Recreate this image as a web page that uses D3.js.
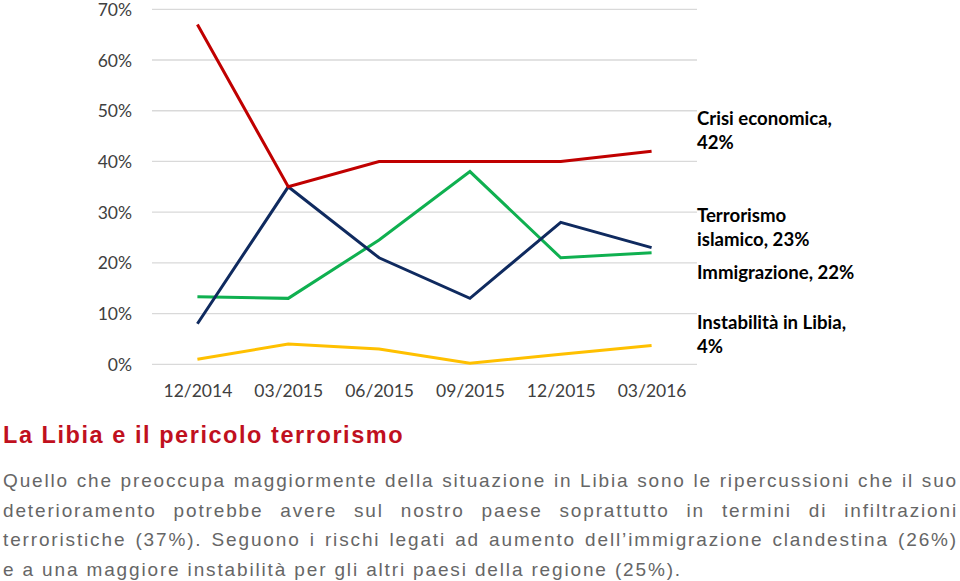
<!DOCTYPE html>
<html><head><meta charset="utf-8">
<script src="https://cdn.jsdelivr.net/npm/d3@7"></script>
<style>
html,body{margin:0;padding:0;background:#fff;}
svg{display:block;}
</style>
</head><body>
<svg id="c" width="960" height="581"></svg>
<script>
const categories = ["12/2014","03/2015","06/2015","09/2015","12/2015","03/2016"];
const crisiEconomica = [67, 35, 40, 40, 40, 42];
const terrorismoIslamico = [8, 35, 21, 13, 28, 23];
const immigrazione = [13.3, 13, 24.5, 38, 21, 22];
const instabilitaLibia = [1, 4, 3, 0.2, 2, 3.7];
const yTicks = [0, 10, 20, 30, 40, 50, 60, 70];
const seriesNames = ["Crisi economica", "Terrorismo islamico", "Immigrazione", "Instabilità in Libia"];
const seriesColors = ["#c00000", "#0f2a5f", "#0fb050", "#ffc000"];
const endLabels = [["Crisi economica,", "42%"], ["Terrorismo", "islamico, 23%"], ["Immigrazione, 22%"], ["Instabilità in Libia,", "4%"]];
const endLabelY = [125, 222, 279, 329];
const title = "La Libia e il pericolo terrorismo";
const paragraphLines = [
 "Quello che preoccupa maggiormente della situazione in Libia sono le ripercussioni che il suo",
 "deterioramento potrebbe avere sul nostro paese soprattutto in termini di infiltrazioni",
 "terroristiche (37%). Seguono i rischi legati ad aumento dell\u2019immigrazione clandestina (26%)",
 "e a una maggiore instabilità per gli altri paesi della regione (25%)."
];

const svg = d3.select("#c");
const x = d3.scalePoint().domain(categories).range([152, 697]).padding(0.5);
const y = d3.scaleLinear().domain([0, 70]).range([364.3, 9.3]);

// grid
svg.append("g").selectAll("line").data(yTicks).join("line")
  .attr("x1", 152).attr("x2", 697)
  .attr("y1", d => y(d)).attr("y2", d => y(d))
  .attr("stroke", "#d9d9d9").attr("stroke-width", 1.3);

// y axis
const yAxis = d3.axisLeft(y).tickValues(yTicks).tickFormat(d => d + "%").tickSize(0).tickPadding(0);
const yg = svg.append("g").attr("transform", "translate(132,0)").call(yAxis);
yg.select(".domain").remove();
yg.selectAll("text").attr("font-family", "Lato, 'Open Sans', sans-serif").attr("font-size", 17.5).attr("fill", "#404040").attr("dy", "0.35em");

// x axis
const xAxis = d3.axisBottom(x).tickSize(0).tickPadding(0);
const xg = svg.append("g").attr("transform", "translate(0,383)").call(xAxis);
xg.select(".domain").remove();
xg.selectAll("text").attr("font-family", "Lato, 'Open Sans', sans-serif").attr("font-size", 17.5).attr("fill", "#404040").attr("dy", "0.8em");

// lines
const allSeries = [crisiEconomica, terrorismoIslamico, immigrazione, instabilitaLibia];
const line = d3.line().x((d, i) => x(categories[i])).y(d => y(d));
[3, 2, 1, 0].forEach(k => {
  svg.append("path").datum(allSeries[k]).attr("d", line)
    .attr("fill", "none").attr("stroke", seriesColors[k]).attr("stroke-width", 3)
    .attr("stroke-linejoin", "miter");
});

// end labels
endLabels.forEach((lines, k) => {
  const t = svg.append("text").attr("x", 697).attr("y", endLabelY[k])
    .attr("font-family", "Lato, sans-serif").attr("font-weight", "bold").attr("font-size", 18.6).attr("fill", "#000");
  lines.forEach((s, j) => t.append("tspan").attr("x", 697).attr("dy", j === 0 ? 0 : 24).text(s));
});

// title
svg.append("text").attr("x", 3).attr("y", 443).text(title)
  .attr("font-family", "'Liberation Sans', Arial, sans-serif").attr("font-weight", "bold")
  .attr("font-size", 23.5).attr("fill", "#c0101e").attr("letter-spacing", 1.55);

// paragraph, justified
const pY = [487, 516.5, 546, 575.5];
const left = 3, right = 958;
paragraphLines.forEach((s, i) => {
  const t = svg.append("text").attr("y", pY[i])
    .attr("font-family", "'Liberation Sans', Arial, sans-serif").attr("font-size", 19)
    .attr("letter-spacing", 1.85).attr("fill", "#666");
  const justify = i < paragraphLines.length - 1;
  if (!justify) { t.attr("x", left).text(s); return; }
  const words = s.split(" ");
  const spans = words.map(w => t.append("tspan").text(w));
  const widths = spans.map(sp => sp.node().getComputedTextLength());
  const total = d3.sum(widths);
  const gap = (right - left - total) / (words.length - 1);
  let cx = left;
  spans.forEach((sp, j) => { sp.attr("x", cx); cx += widths[j] + gap; });
});
</script>
</body></html>
